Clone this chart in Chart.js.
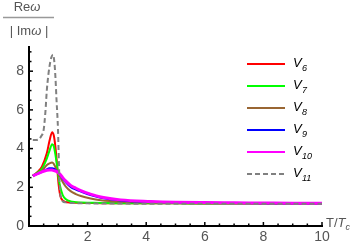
<!DOCTYPE html>
<html>
<head>
<meta charset="utf-8">
<script src="https://cdn.jsdelivr.net/npm/chart.js@4/dist/chart.umd.min.js"></script>
<style>
  html, body { margin: 0; padding: 0; background: #fff; }
  #wrap { width: 360px; height: 247px; }
</style>
</head>
<body>
<div id="wrap"><canvas id="myChart" width="360" height="247"></canvas></div>
<script>
// T/Tc sample points
const tValues = [0.13, 0.3, 0.44, 0.61, 0.7, 0.79, 0.85, 0.9, 0.95, 0.99, 1.03, 1.07, 1.15, 1.25, 1.42, 1.6, 1.77, 2.1, 2.45, 3.13, 4.15, 5, 6, 7, 8, 9, 10];
const v6 = [2.59, 2.8, 3.07, 3.77, 4.4, 4.85, 4.65, 4.1, 3.3, 2.49, 1.9, 1.55, 1.32, 1.24, 1.21, 1.2, 1.19, 1.19, 1.18, 1.18, 1.17, 1.17, 1.16, 1.16, 1.16, 1.15, 1.15];
const v7 = [2.59, 2.78, 2.95, 3.5, 3.9, 4.23, 4.1, 3.7, 3.2, 2.75, 2.3, 2.0, 1.6, 1.4, 1.27, 1.23, 1.21, 1.2, 1.19, 1.18, 1.17, 1.17, 1.16, 1.16, 1.16, 1.15, 1.15];
const v8 = [2.59, 2.72, 2.85, 3.15, 3.24, 3.28, 3.2, 3.05, 2.9, 2.78, 2.62, 2.5, 2.28, 2.05, 1.8, 1.65, 1.55, 1.42, 1.33, 1.25, 1.21, 1.19, 1.18, 1.17, 1.16, 1.16, 1.15];
const v9 = [2.59, 2.7, 2.8, 2.93, 2.98, 2.99, 2.96, 2.9, 2.84, 2.78, 2.7, 2.62, 2.45, 2.27, 2.02, 1.88, 1.78, 1.6, 1.46, 1.32, 1.25, 1.22, 1.2, 1.19, 1.18, 1.17, 1.17];
const v10 = [2.59, 2.7, 2.8, 2.88, 2.9, 2.89, 2.86, 2.84, 2.81, 2.78, 2.72, 2.66, 2.5, 2.33, 2.1, 1.95, 1.83, 1.65, 1.5, 1.35, 1.27, 1.23, 1.21, 1.2, 1.19, 1.18, 1.18];
// V11 has its own sample points (sharp peak)
const tDashed = [0.13, 0.25, 0.35, 0.42, 0.5, 0.56, 0.61, 0.66, 0.7, 0.76, 0.82, 0.87, 0.9, 0.94, 0.99, 1.02, 1.05, 1.09, 1.15, 1.25, 1.5, 2, 3, 4, 6, 8, 10];
const v11 = [4.45, 4.45, 4.5, 4.65, 4.97, 5.9, 7.05, 7.8, 8.25, 8.7, 8.86, 8.4, 7.74, 6.5, 4.97, 3.3, 2.0, 1.45, 1.28, 1.22, 1.19, 1.17, 1.16, 1.15, 1.15, 1.15, 1.15];

const seriesNames = ["6", "7", "8", "9", "10", "11"];
const seriesColors = ["#ff0000", "#00ff00", "#996633", "#0000ff", "#ff00ff", "#808080"];
const xTicks = [2, 4, 6, 8, 10];
const yTicks = [0, 2, 4, 6, 8];

const textColor = "#555";
const fontFamily = "'Liberation Sans', Arial, sans-serif";

function pts(xs, ys) {
  return xs.map((x, i) => ({ x: x, y: ys[i] }));
}

const allData = [pts(tValues, v6), pts(tValues, v7), pts(tValues, v8), pts(tValues, v9), pts(tValues, v10), pts(tDashed, v11)];

const datasets = allData.map((d, i) => ({
  label: "V" + seriesNames[i],
  data: d,
  borderColor: seriesColors[i],
  backgroundColor: seriesColors[i],
  borderWidth: i === 4 ? 3 : 2,
  borderDash: i === 5 ? [5, 3] : [],
  pointRadius: 0,
  cubicInterpolationMode: "monotone",
  fill: false,
  order: 5 - i,
}));

// inward tick marks, title, legend, axis label
const decor = {
  id: "decor",
  afterDraw(chart) {
    const ctx = chart.ctx;
    const xs = chart.scales.x, ys = chart.scales.y;
    const a = chart.chartArea;
    ctx.save();
    ctx.strokeStyle = "#000";
    ctx.lineWidth = 1.5;
    for (let v = 0.5; v <= 10.001; v += 0.5) {
      const px = xs.getPixelForValue(v);
      const len = v % 2 === 0 ? 4 : 2.5;
      ctx.beginPath();
      ctx.moveTo(px, a.bottom);
      ctx.lineTo(px, a.bottom - len);
      ctx.stroke();
    }
    for (let v = 0.5; v <= 9.001; v += 0.5) {
      const py = ys.getPixelForValue(v);
      const len = v % 2 === 0 ? 4 : 2.5;
      ctx.beginPath();
      ctx.moveTo(a.left, py);
      ctx.lineTo(a.left + len, py);
      ctx.stroke();
    }

    // y-axis title as a fraction
    ctx.fillStyle = textColor;
    ctx.textBaseline = "middle";
    const drawParts = (parts, cx, cy) => {
      let w = 0;
      parts.forEach(p => { ctx.font = p[1]; w += ctx.measureText(p[0]).width; });
      let x = cx - w / 2;
      parts.forEach(p => {
        ctx.font = p[1];
        ctx.textAlign = "left";
        ctx.fillText(p[0], x, cy);
        x += ctx.measureText(p[0]).width;
      });
    };
    const up = "13px " + fontFamily, it = "italic 13px " + fontFamily;
    drawParts([["Re", up], ["ω", it]], 27, 7);
    ctx.strokeStyle = "#999";
    ctx.lineWidth = 1.5;
    ctx.beginPath();
    ctx.moveTo(3, 17.5);
    ctx.lineTo(54, 17.5);
    ctx.stroke();
    drawParts([["| Im", up], ["ω", it], [" |", up]], 29, 31);

    // x-axis title
    ctx.font = "13px " + fontFamily;
    ctx.fillText("T/", 326, 223);
    let tx = 326 + ctx.measureText("T/").width;
    ctx.font = "italic 13px " + fontFamily;
    ctx.fillText("T", tx, 223);
    tx += ctx.measureText("T").width;
    ctx.font = "italic 9px " + fontFamily;
    ctx.fillText("c", tx, 227);

    // legend
    chart.data.datasets.forEach((ds, i) => {
      const y = 64 + i * 22;
      ctx.strokeStyle = ds.borderColor;
      ctx.lineWidth = 2;
      ctx.setLineDash(ds.borderDash);
      ctx.beginPath();
      ctx.moveTo(247, y);
      ctx.lineTo(285, y);
      ctx.stroke();
      ctx.setLineDash([]);
      ctx.fillStyle = "#000";
      ctx.font = "italic 13px " + fontFamily;
      ctx.fillText("V", 293, y - 1);
      ctx.font = "italic 9px " + fontFamily;
      ctx.fillText(seriesNames[i], 293 + 9, y + 4);
    });
    ctx.restore();
  }
};

const ctx = document.getElementById("myChart").getContext("2d");
const chart = new Chart(ctx, {
  type: "line",
  data: { datasets: datasets },
  options: {
    responsive: false,
    animation: false,
    layout: { padding: { left: 0, right: 38, top: 47, bottom: 0 } },
    plugins: { legend: { display: false }, tooltip: { enabled: false } },
    scales: {
      x: {
        type: "linear",
        min: 0,
        max: 10,
        afterBuildTicks: s => { s.ticks = xTicks.map(v => ({ value: v })); },
        afterFit: s => { s.height = 21; },
        grid: { display: false, drawTicks: false },
        border: { display: true, color: "#000", width: 2 },
        ticks: { color: textColor, font: { size: 14, family: fontFamily }, padding: 3, maxRotation: 0 },
      },
      y: {
        min: 0,
        max: 9.25,
        afterBuildTicks: s => { s.ticks = yTicks.map(v => ({ value: v })); },
        afterFit: s => { s.width = 29; },
        grid: { display: false, drawTicks: false },
        border: { display: true, color: "#000", width: 2 },
        ticks: { color: textColor, font: { size: 14, family: fontFamily }, padding: 5 },
      },
    },
  },
  plugins: [decor],
});
</script>
</body>
</html>
